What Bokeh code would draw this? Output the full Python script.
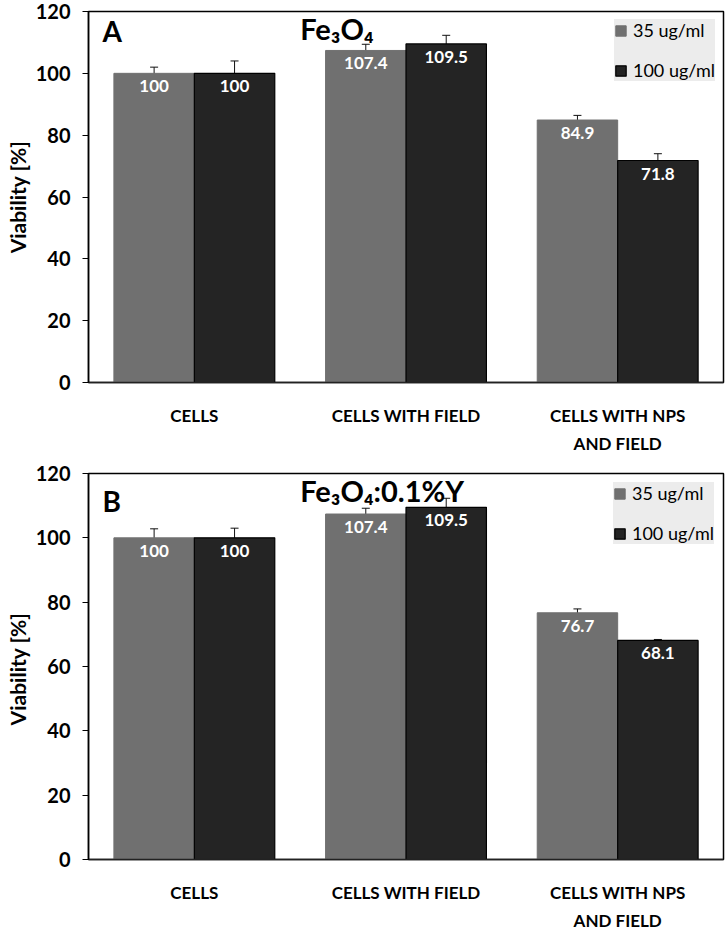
from bokeh.plotting import figure
from bokeh.models import (ColumnDataSource, FactorRange, Range1d, Whisker, TeeHead,
                          Label, Legend, LegendItem, FixedTicker)
from bokeh.transform import dodge
from bokeh.layouts import column
from bokeh.core.properties import value
from bokeh.embed import file_html
from bokeh.resources import INLINE

categories = ["CELLS", "CELLS WITH FIELD", "CELLS WITH NPS\nAND FIELD"]
series_names = ["35 ug/ml", "100 ug/ml"]

a_35 = [100, 107.4, 84.9]
a_100 = [100, 109.5, 71.8]
a_35_err = [2.0, 2.0, 1.5]
a_100_err = [4.0, 2.8, 2.2]

b_35 = [100, 107.4, 76.7]
b_100 = [100, 109.5, 68.1]
b_35_err = [2.8, 1.8, 1.2]
b_100_err = [3.0, 2.8, 0.3]

y_ticks = [0, 20, 40, 60, 80, 100, 120]

FONT = "Lato"
C35 = "#707070"
C100 = "#242424"


def make_panel(letter, title_text, ylabel, v35, v100, e35, e100,
               height, top, bottom, right, letter_off, leg_margin):
    p = figure(x_range=FactorRange(*categories), y_range=Range1d(0, 120),
               width=726, height=height, output_backend="svg", toolbar_location=None,
               min_border_left=88, min_border_right=right, min_border_top=top,
               min_border_bottom=bottom)
    src = ColumnDataSource(dict(
        cats=categories, v35=v35, v100=v100,
        t35=[f"{v:g}" for v in v35], t100=[f"{v:g}" for v in v100],
        u35=[v + e for v, e in zip(v35, e35)], l35=[v - e for v, e in zip(v35, e35)],
        u100=[v + e for v, e in zip(v100, e100)], l100=[v - e for v, e in zip(v100, e100)],
    ))
    r1 = p.vbar(x=dodge("cats", -0.19, range=p.x_range), top="v35", width=0.38,
                source=src, fill_color=C35, line_color=C35)
    r2 = p.vbar(x=dodge("cats", 0.19, range=p.x_range), top="v100", width=0.38,
                source=src, fill_color=C100, line_color="#000000", line_width=1.2)
    for off, up, lo in ((-0.19, "u35", "l35"), (0.19, "u100", "l100")):
        w = Whisker(base=dodge("cats", off, range=p.x_range), upper=up, lower=lo,
                    source=src, line_color="#111111", line_width=1,
                    upper_head=TeeHead(size=8, line_color="#111111", line_width=1),
                    lower_head=TeeHead(size=8, line_color="#111111", line_width=1))
        p.add_layout(w)
    for off, col, txt in ((-0.19, "v35", "t35"), (0.19, "v100", "t100")):
        p.text(x=dodge("cats", off, range=p.x_range), y=col, text=txt, source=src,
               text_color="white", text_font=value(FONT), text_font_style="bold",
               text_font_size="17px", text_align="center", text_baseline="top",
               y_offset=7)

    p.add_layout(Label(x=0, y=120, x_offset=14, y_offset=-letter_off, text=letter,
                       text_font=FONT, text_font_style="bold", text_font_size="28px",
                       text_color="black", text_baseline="middle"))
    p.add_layout(Label(x=1.0, y=120, y_offset=1, text=title_text, text_font=FONT,
                       text_font_style="bold", text_font_size="29px",
                       text_color="black", text_baseline="top"))

    legend = Legend(items=[LegendItem(label=series_names[0], renderers=[r1]),
                           LegendItem(label=series_names[1], renderers=[r2])],
                    location="top_right", background_fill_color="#ececec",
                    background_fill_alpha=1, border_line_color=None,
                    label_text_font=FONT, label_text_font_size="18px",
                    label_text_color="black", label_height=20,
                    glyph_width=13, glyph_height=13, spacing=18, padding=13,
                    margin=leg_margin, label_standoff=6)
    p.add_layout(legend)

    p.xgrid.grid_line_color = None
    p.ygrid.grid_line_color = None
    p.outline_line_color = "black"
    p.outline_line_width = 1.5
    p.yaxis.ticker = FixedTicker(ticks=y_ticks)
    p.yaxis.axis_label = ylabel
    p.yaxis.axis_label_text_font = FONT
    p.yaxis.axis_label_text_font_style = "bold"
    p.yaxis.axis_label_text_font_size = "21px"
    p.yaxis.axis_label_text_color = "black"
    p.yaxis.axis_label_standoff = 3
    p.yaxis.major_label_text_font = FONT
    p.yaxis.major_label_text_font_style = "bold"
    p.yaxis.major_label_text_font_size = "20px"
    p.yaxis.major_label_text_color = "black"
    p.yaxis.axis_line_color = "black"
    p.yaxis.axis_line_width = 1.5
    p.yaxis.major_tick_line_color = "black"
    p.yaxis.major_tick_out = 6
    p.yaxis.major_tick_in = 0
    p.yaxis.minor_tick_line_color = None
    p.yaxis.major_label_standoff = 12
    p.xaxis.major_tick_line_color = None
    p.xaxis.axis_line_color = "#222222"
    p.xaxis.axis_line_width = 1.5
    p.xaxis.major_label_text_font = FONT
    p.xaxis.major_label_text_font_style = "bold"
    p.xaxis.major_label_text_font_size = "17px"
    p.xaxis.major_label_text_color = "black"
    p.xaxis.major_label_text_line_height = 1.35
    p.xaxis.major_label_standoff = 16
    p.x_range.range_padding = 0
    p.x_range.factor_padding = 0
    return p


pa = make_panel("A", "Fe\u2083O\u2084", "Viability [%]", a_35, a_100, a_35_err, a_100_err,
                456, 11, 74, 3, 19, 8)
pb = make_panel("B", "Fe\u2083O\u2084:0.1%Y", "Viability  [%]", b_35, b_100, b_35_err,
                b_100_err, 477, 17, 70, 1, 27, 9)

layout = column(pa, pb, spacing=0)
open("out.html", "w").write(file_html(layout, INLINE))
